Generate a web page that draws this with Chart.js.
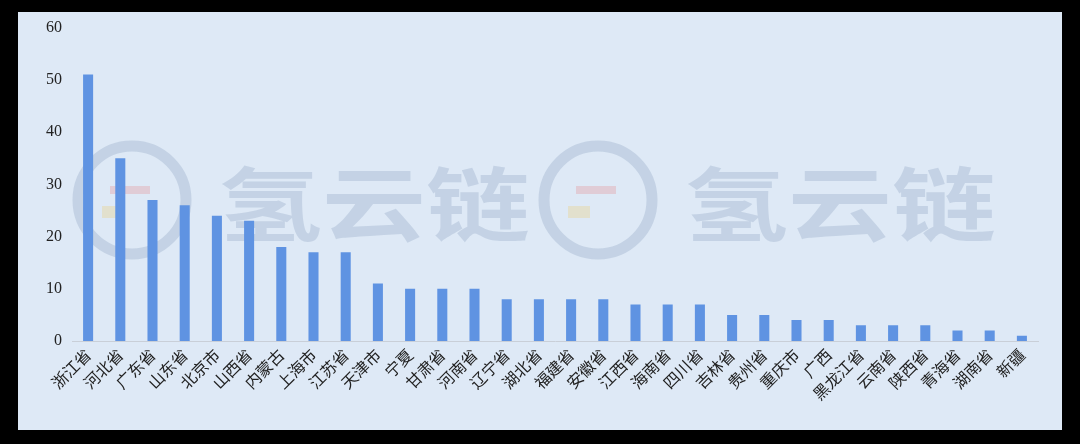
<!DOCTYPE html>
<html lang="zh">
<head>
<meta charset="UTF-8">
<title>各省份数量</title>
<style>
html, body { margin: 0; padding: 0; background: #000; }
.panel { position: absolute; left: 18px; top: 12px; width: 1044px; height: 418px; background: #dee9f6; overflow: hidden; }
#chart { display: block; margin-top: -4px; }
</style>
</head>
<body>
<div class="panel"><canvas id="chart" width="1044" height="422"></canvas></div>
<script src="https://cdn.jsdelivr.net/npm/chart.js@4.4.1/dist/chart.umd.min.js"></script>
<script>
const provinces = ['浙江省', '河北省', '广东省', '山东省', '北京市', '山西省', '内蒙古', '上海市', '江苏省', '天津市',
  '宁夏', '甘肃省', '河南省', '辽宁省', '湖北省', '福建省', '安徽省', '江西省', '海南省', '四川省',
  '吉林省', '贵州省', '重庆市', '广西', '黑龙江省', '云南省', '陕西省', '青海省', '湖南省', '新疆'];
const counts = [51, 35, 27, 26, 24, 23, 18, 17, 17, 11,
  10, 10, 10, 8, 8, 8, 8, 7, 7, 7,
  5, 5, 4, 4, 3, 3, 3, 2, 2, 1];
const yTicks = [0, 10, 20, 30, 40, 50, 60];

// faint watermark behind the bars
const watermark = {
  id: 'watermark',
  beforeDatasetsDraw(chart) {
    const ctx = chart.ctx;
    ctx.save();
    [[114, 192], [580, 192]].forEach(([cx, cy]) => {
      ctx.strokeStyle = 'rgba(160,178,205,0.42)';
      ctx.lineWidth = 11;
      ctx.beginPath();
      ctx.arc(cx, cy, 54, 0, Math.PI * 2);
      ctx.stroke();
      ctx.fillStyle = 'rgba(230,120,120,0.25)';
      ctx.fillRect(cx - 22, cy - 14, 40, 8);
      ctx.fillStyle = 'rgba(235,205,110,0.3)';
      ctx.fillRect(cx - 30, cy + 6, 22, 12);
      ctx.save();
      ctx.translate(cx + 86, cy + 4);
      ctx.scale(1.3, 1);
      ctx.font = 'bold 80px "Noto Sans CJK SC"';
      ctx.fillStyle = 'rgba(160,178,205,0.42)';
      ctx.textBaseline = 'middle';
      ctx.fillText('氢云链', 0, 0);
      ctx.restore();
    });
    ctx.restore();
  }
};

new Chart(document.getElementById('chart'), {
  type: 'bar',
  data: {
    labels: provinces,
    datasets: [{ data: counts, backgroundColor: '#5f93e2', barPercentage: 0.6, categoryPercentage: 0.52 }]
  },
  options: {
    responsive: false,
    animation: false,
    layout: { padding: { top: 0, right: 24, left: 0, bottom: 0 } },
    plugins: { legend: { display: false }, tooltip: { enabled: false } },
    scales: {
      x: {
        grid: { display: false, drawTicks: false },
        border: { display: true, color: '#c9cfd8', width: 1 },
        ticks: {
          color: '#222', minRotation: 45, maxRotation: 45, autoSkip: false, padding: 4,
          font: { family: '"Noto Sans CJK SC"', size: 16 }
        },
        afterFit(scale) { scale.height = 89; }
      },
      y: {
        min: 0, max: 60,
        grid: { display: false, drawTicks: false },
        border: { display: false },
        afterBuildTicks(scale) { scale.ticks = yTicks.map(v => ({ value: v })); },
        ticks: {
          color: '#222', padding: 10,
          font: { family: '"Liberation Serif"', size: 16 }
        },
        afterFit(scale) { scale.width = 54; }
      }
    }
  },
  plugins: [watermark]
});
</script>
</body>
</html>
